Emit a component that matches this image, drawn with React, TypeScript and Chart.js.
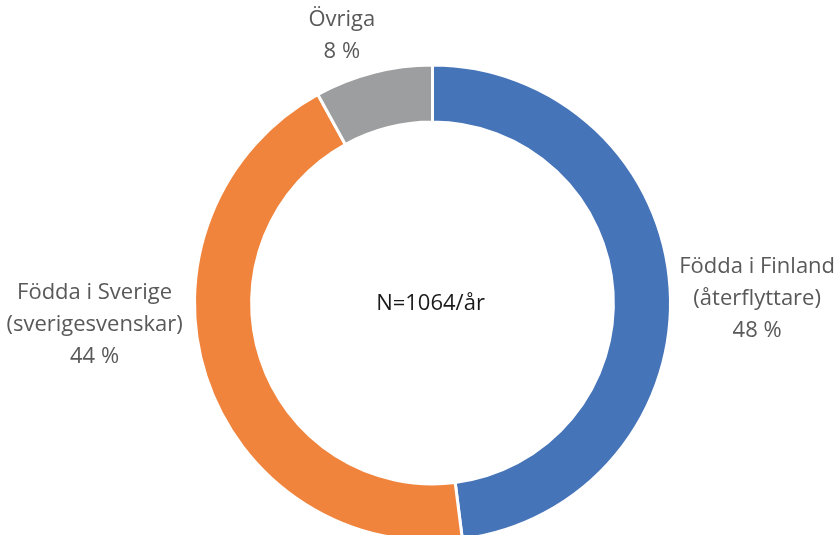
import React, { useEffect, useRef } from "react";
import { Chart, registerables } from "chart.js";

Chart.register(...registerables);

const categories: string[][] = [
  ["Födda i Finland", "(återflyttare)"],
  ["Födda i Sverige", "(sverigesvenskar)"],
  ["Övriga"],
];
const shares: number[] = [48, 44, 8];
const colors: string[] = ["#4674B9", "#F0843D", "#9D9E9F"];
const centerText = "N=1064/år";

// label block centers, in units of the outer radius, relative to the ring centre
const labelOffsets: [number, number][] = [
  [1.364, -0.025],
  [-1.42, 0.085],
  [-0.381, -1.131],
];

const FONT = "'Open Sans', Lato, sans-serif";
const FONT_SIZE = 22;
const LINE_H = 32;

const labelPlugin = {
  id: "outerLabels",
  afterDatasetsDraw(chart: any) {
    const ctx = chart.ctx;
    const meta = chart.getDatasetMeta(0);
    const arcs = meta.data;
    if (!arcs.length) return;
    const cx = arcs[0].x;
    const cy = arcs[0].y;
    const R = arcs[0].outerRadius;
    ctx.save();
    ctx.font = `${FONT_SIZE}px ${FONT}`;
    ctx.textAlign = "center";
    ctx.textBaseline = "middle";
    ctx.fillStyle = "#595959";
    arcs.forEach((_: any, i: number) => {
      const lines = [...categories[i], `${shares[i]} %`];
      const [fx, fy] = labelOffsets[i];
      const bx = cx + fx * R;
      const by = cy + fy * R + 2;
      const top = by - ((lines.length - 1) * LINE_H) / 2;
      lines.forEach((t, j) => ctx.fillText(t, bx, top + j * LINE_H));
    });
    ctx.fillStyle = "#1a1a1a";
    ctx.fillText(centerText, cx - 2, cy + 1);
    ctx.restore();
  },
};

export default function App() {
  const ref = useRef<HTMLCanvasElement | null>(null);
  useEffect(() => {
    if (!ref.current) return;
    const chart = new Chart(ref.current, {
      type: "doughnut",
      data: {
        labels: categories.map((c) => c.join(" ")),
        datasets: [
          {
            data: shares,
            backgroundColor: colors,
            borderColor: "#ffffff",
            borderWidth: 3,
          },
        ],
      },
      options: {
        animation: false,
        responsive: false,
        maintainAspectRatio: false,
        cutout: "76%",
        layout: { padding: { top: 63, bottom: 17, left: 193, right: 168 } },
        plugins: {
          legend: { display: false },
          tooltip: { enabled: false },
        },
      },
      plugins: [labelPlugin],
    });
    return () => chart.destroy();
  }, []);
  return (
    <div
      style={{
        position: "fixed",
        left: 0,
        top: 0,
        width: 840,
        height: 535,
        overflow: "hidden",
        background: "#fff",
      }}
    >
      <canvas ref={ref} width={840} height={560} style={{ display: "block" }} />
    </div>
  );
}
